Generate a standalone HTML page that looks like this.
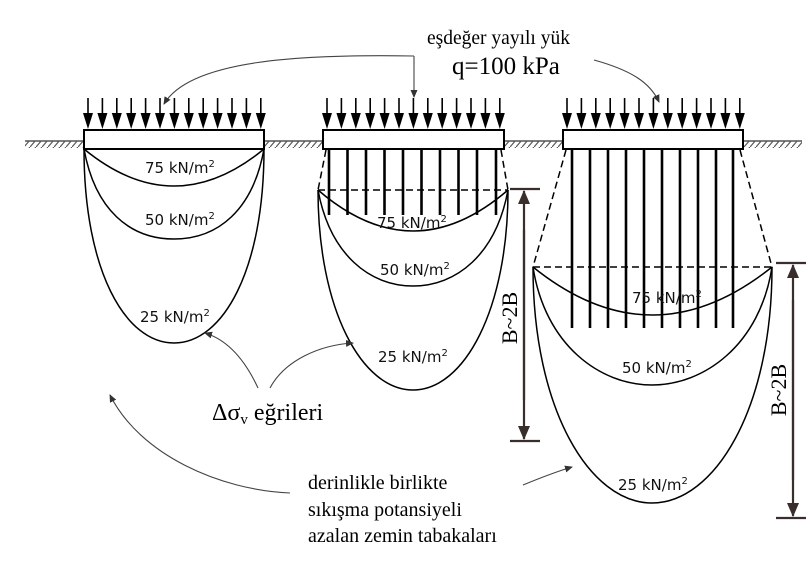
<!DOCTYPE html>
<html><head><meta charset="utf-8"><style>
html,body{margin:0;padding:0;background:#fff}
svg{display:block}
.k{font-family:"DejaVu Sans","Liberation Sans",sans-serif;font-size:15px;fill:#111}
.s{font-family:"Liberation Serif",serif;fill:#000}
</style></head><body>
<svg width="810" height="570" viewBox="0 0 810 570" xmlns="http://www.w3.org/2000/svg">
<defs>
<marker id="ah" markerWidth="8" markerHeight="8" refX="7" refY="4" orient="auto" markerUnits="userSpaceOnUse"><path d="M0,0.5 L8,4 L0,7.5 Z" fill="#333"/></marker>
<marker id="dh" markerWidth="14" markerHeight="14" refX="13" refY="6" orient="auto" markerUnits="userSpaceOnUse"><path d="M0,0 L14,6 L0,12 Z" fill="#3a2e2c"/></marker>
<pattern id="hatch" width="6" height="7" patternUnits="userSpaceOnUse"><path d="M0,7 L6,0" stroke="#555" stroke-width="1.2"/></pattern>
<g id="arr"><line x1="0" y1="98" x2="0" y2="114" stroke="#000" stroke-width="1.6"/><path d="M-5,113 L5,113 L0,129 Z" fill="#000"/></g>
<g id="row">
<use href="#arr" x="0"/><use href="#arr" x="14.4"/><use href="#arr" x="28.8"/><use href="#arr" x="43.2"/><use href="#arr" x="57.6"/><use href="#arr" x="72"/><use href="#arr" x="86.4"/><use href="#arr" x="100.8"/><use href="#arr" x="115.2"/><use href="#arr" x="129.6"/><use href="#arr" x="144"/><use href="#arr" x="158.4"/><use href="#arr" x="172.8"/>
</g>
</defs>

<g stroke="#333" stroke-width="1.3">
<line x1="25" y1="141" x2="84" y2="141"/><line x1="264" y1="141" x2="322" y2="141"/>
<line x1="504" y1="141" x2="562" y2="141"/><line x1="743" y1="141" x2="802" y2="141"/>
</g>
<g fill="url(#hatch)">
<rect x="25" y="141" width="59" height="7"/><rect x="264" y="141" width="58" height="7"/>
<rect x="504" y="141" width="58" height="7"/><rect x="743" y="141" width="59" height="7"/>
</g>

<use href="#row" x="88"/>
<use href="#row" x="327"/>
<use href="#row" x="567"/>

<g fill="#fff" stroke="#000" stroke-width="2">
<rect x="84" y="130" width="180" height="19"/>
<rect x="323" y="130" width="181" height="19"/>
<rect x="563" y="130" width="180" height="19"/>
</g>

<g stroke="#000" stroke-width="2.6">
<line x1="329" y1="149" x2="329" y2="215"/><line x1="347.5" y1="149" x2="347.5" y2="215"/><line x1="366" y1="149" x2="366" y2="215"/><line x1="384.5" y1="149" x2="384.5" y2="215"/><line x1="403" y1="149" x2="403" y2="215"/><line x1="421.5" y1="149" x2="421.5" y2="215"/><line x1="440" y1="149" x2="440" y2="215"/><line x1="458.5" y1="149" x2="458.5" y2="215"/><line x1="477" y1="149" x2="477" y2="215"/><line x1="496" y1="149" x2="496" y2="215"/>
<line x1="572" y1="149" x2="572" y2="328"/><line x1="590" y1="149" x2="590" y2="328"/><line x1="608" y1="149" x2="608" y2="328"/><line x1="626" y1="149" x2="626" y2="328"/><line x1="644" y1="149" x2="644" y2="328"/><line x1="662" y1="149" x2="662" y2="328"/><line x1="680" y1="149" x2="680" y2="328"/><line x1="698" y1="149" x2="698" y2="328"/><line x1="716" y1="149" x2="716" y2="328"/><line x1="733" y1="149" x2="733" y2="328"/>
</g>

<g stroke="#000" stroke-width="1.5" stroke-dasharray="7,4" fill="none">
<line x1="318" y1="190" x2="508" y2="190"/>
<line x1="326" y1="150" x2="318" y2="190"/><line x1="501" y1="150" x2="508" y2="190"/>
<line x1="533" y1="267" x2="772" y2="267"/>
<line x1="566" y1="150" x2="533" y2="267"/><line x1="740" y1="150" x2="772" y2="267"/>
</g>

<g stroke="#000" stroke-width="1.5" fill="none">
<path d="M84,149 Q174,223 264,149"/>
<path d="M84,149 C95,210 130,239 174,239 C218,239 253,210 264,149"/>
<path d="M84,149 C84,270 125,343 174,343 C223,343 264,270 264,149"/>

<path d="M318,190 Q413,272 508,190"/>
<path d="M318,190 C330,255 370,286 413,286 C456,286 496,255 508,190"/>
<path d="M318,190 C318,310 362,390 413,390 C464,390 508,310 508,190"/>

<path d="M533,267 Q652,363 772,267"/>
<path d="M533,267 C545,345 600,385 652,385 C704,385 760,345 772,267"/>
<path d="M533,267 C533,410 590,503 652,503 C714,503 772,410 772,267"/>
</g>

<text class="k" x="145" y="173">75 kN/m<tspan font-size="10" dy="-6">2</tspan></text>
<text class="k" x="145" y="225">50 kN/m<tspan font-size="10" dy="-6">2</tspan></text>
<text class="k" x="140" y="322">25 kN/m<tspan font-size="10" dy="-6">2</tspan></text>
<text class="k" x="377" y="228">75 kN/m<tspan font-size="10" dy="-6">2</tspan></text>
<text class="k" x="380" y="275">50 kN/m<tspan font-size="10" dy="-6">2</tspan></text>
<text class="k" x="378" y="362">25 kN/m<tspan font-size="10" dy="-6">2</tspan></text>
<text class="k" x="632" y="303">75 kN/m<tspan font-size="10" dy="-6">2</tspan></text>
<text class="k" x="622" y="373">50 kN/m<tspan font-size="10" dy="-6">2</tspan></text>
<text class="k" x="618" y="490">25 kN/m<tspan font-size="10" dy="-6">2</tspan></text>

<g stroke="#3a2e2c" stroke-width="2.2">
<line x1="510" y1="189" x2="540" y2="189"/><line x1="510" y1="441" x2="540" y2="441"/>
<line x1="524" y1="400" x2="524" y2="191" marker-end="url(#dh)"/>
<line x1="524" y1="230" x2="524" y2="439" marker-end="url(#dh)"/>
<line x1="776" y1="263" x2="806" y2="263"/><line x1="776" y1="518" x2="806" y2="518"/>
<line x1="793" y1="480" x2="793" y2="265" marker-end="url(#dh)"/>
<line x1="793" y1="300" x2="793" y2="516" marker-end="url(#dh)"/>
</g>
<text class="s" font-size="22" transform="translate(517,318) rotate(-90)" text-anchor="middle">B~2B</text>
<text class="s" font-size="22" transform="translate(786,390) rotate(-90)" text-anchor="middle">B~2B</text>

<g stroke="#444" stroke-width="1.1" fill="none" marker-end="url(#ah)">
<path d="M414,56 C300,54 190,60 164,104"/>
<path d="M414,56 L414,97"/>
<path d="M594,60 C630,70 650,82 659,102"/>
<path d="M258,388 C245,360 228,340 205,333"/>
<path d="M270,388 C285,360 320,345 353,343"/>
<path d="M290,493 C220,490 140,455 110,395"/>
<path d="M523,485 C540,478 555,472 572,467"/>
</g>

<text class="s" font-size="19.5" x="427" y="44">eşdeğer yayılı yük</text>
<text class="s" font-size="25" x="452" y="74">q=100 kPa</text>
<text class="s" font-size="24" x="212" y="420">Δσ<tspan font-size="15" dy="4">v</tspan><tspan dy="-4"> eğrileri</tspan></text>
<text class="s" font-size="20" x="308" y="489">derinlikle birlikte</text>
<text class="s" font-size="20" x="308" y="516">sıkışma potansiyeli</text>
<text class="s" font-size="20" x="308" y="542">azalan zemin tabakaları</text>
</svg>
</body></html>
